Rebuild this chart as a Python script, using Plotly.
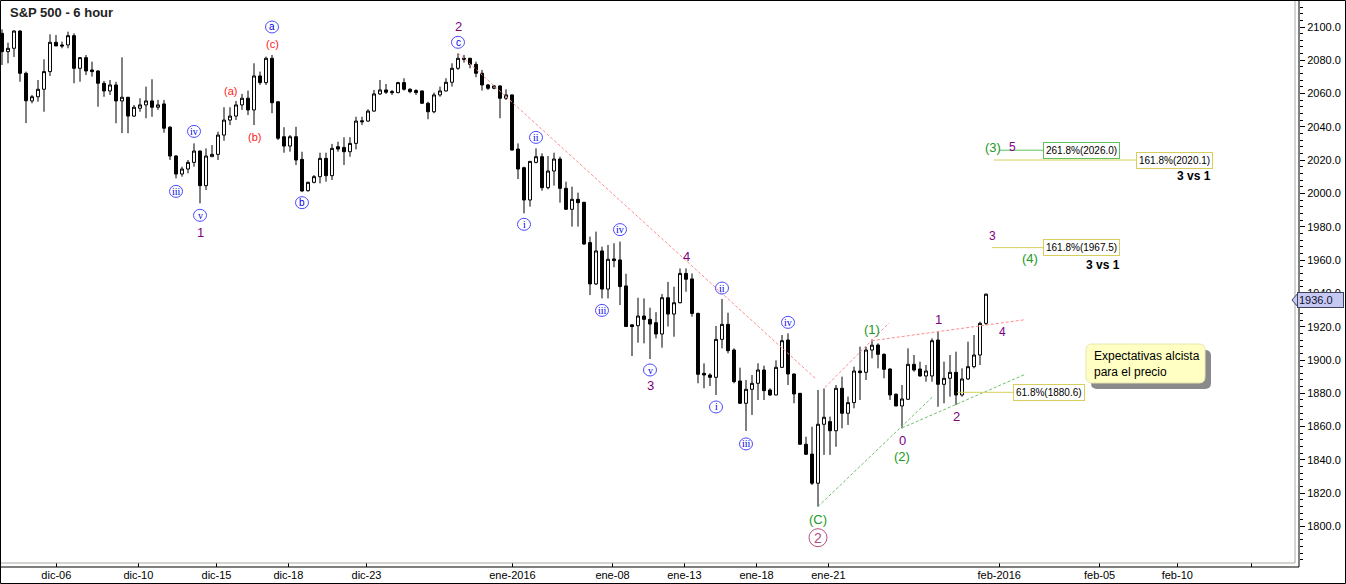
import plotly.graph_objects as go

# ---------------- data (6-hour candles, S&P 500) ----------------
open_ = [2096.2, 2085.2, 2087.2, 2097.6, 2072.2, 2055.6, 2058.1, 2062.6, 2073.2, 2090.8,
         2089.2, 2089.2, 2094.8, 2075.2, 2081.6, 2074.2, 2073.6, 2066.2, 2061.6, 2065.2,
         2055.6, 2057.8, 2046.5, 2051.2, 2053.2, 2055.6, 2051.8, 2053.8, 2039.8, 2022.5,
         2011.7, 2014.7, 2018.7, 2025.5, 2004.7, 2022.1, 2023.5, 2035.1, 2044.1, 2046.5,
         2053.2, 2057.2, 2050.2, 2070.6, 2066.6, 2081.2, 2055.1, 2034.1, 2028.5, 2034.1,
         2020.5, 2001.7, 2006.7, 2010.1, 2021.1, 2010.7, 2028.1, 2027.7, 2025.1, 2030.1,
         2043.7, 2043.5, 2049.5, 2059.8, 2062.2, 2061.2, 2060.6, 2066.6, 2062.6, 2061.8,
         2061.6, 2054.2, 2049.1, 2059.2, 2061.6, 2066.8, 2075.2, 2081.2, 2081.2, 2077.6,
         2072.2, 2065.2, 2063.2, 2064.6, 2057.2, 2059.2, 2026.7, 2015.5, 1996.1, 2018.7,
         2022.1, 2003.5, 2013.5, 2020.7, 2003.1, 1990.5, 1996.5, 1994.7, 1970.5, 1945.7,
         1965.5, 1942.6, 1960.7, 1960.1, 1944.5, 1921.1, 1920.6, 1926.4, 1924.4, 1922.4,
         1915.6, 1937.4, 1927.6, 1934.4, 1952.0, 1948.7, 1928.0, 1892.0, 1891.0, 1889.6,
         1912.4, 1921.4, 1906.0, 1887.4, 1874.0, 1882.4, 1886.0, 1894.0, 1882.0, 1879.0,
         1895.6, 1912.0, 1891.6, 1880.0, 1849.4, 1843.5, 1826.0, 1861.4, 1863.0, 1857.5,
         1883.0, 1868.0, 1874.4, 1893.4, 1892.6, 1906.0, 1909.0, 1903.4, 1894.6, 1879.4,
         1872.4, 1876.4, 1897.4, 1894.6, 1890.4, 1890.4, 1912.0, 1885.4, 1889.0, 1892.6,
         1879.0, 1888.6, 1896.0, 1903.0, 1922.0]

high = [2098.6, 2090.6, 2098.0, 2098.0, 2073.2, 2059.2, 2068.2, 2080.6, 2095.6, 2095.2,
        2091.2, 2097.2, 2096.2, 2082.0, 2083.2, 2079.2, 2074.0, 2067.6, 2068.2, 2067.1,
        2081.8, 2058.0, 2053.2, 2057.2, 2064.2, 2068.6, 2056.2, 2056.2, 2040.5, 2023.1,
        2016.1, 2020.1, 2030.1, 2025.8, 2027.1, 2029.1, 2037.1, 2051.8, 2051.8, 2055.6,
        2059.8, 2061.8, 2078.2, 2073.2, 2082.2, 2083.2, 2055.5, 2039.8, 2035.1, 2040.1,
        2025.1, 2007.1, 2011.1, 2024.5, 2024.5, 2029.8, 2031.1, 2033.8, 2033.8, 2046.1,
        2046.1, 2050.6, 2062.2, 2068.2, 2065.8, 2062.2, 2067.1, 2069.2, 2063.2, 2062.6,
        2061.8, 2055.1, 2060.6, 2064.2, 2069.2, 2078.2, 2084.2, 2083.2, 2081.5, 2079.2,
        2074.2, 2065.8, 2065.2, 2065.0, 2062.6, 2059.5, 2030.1, 2016.1, 2019.5, 2027.1,
        2024.1, 2022.5, 2024.5, 2022.1, 2007.1, 2004.1, 2000.5, 1995.0, 1974.1, 1977.1,
        1968.1, 1969.1, 1970.1, 1971.1, 1951.8, 1921.3, 1937.4, 1937.0, 1931.4, 1928.7,
        1939.6, 1946.9, 1944.0, 1955.0, 1955.0, 1952.0, 1928.4, 1898.0, 1892.0, 1920.4,
        1936.6, 1928.4, 1907.0, 1895.4, 1888.0, 1891.0, 1898.0, 1896.6, 1883.0, 1899.8,
        1915.0, 1916.0, 1891.9, 1880.2, 1853.9, 1859.9, 1882.0, 1882.9, 1866.0, 1885.0,
        1890.0, 1878.0, 1896.0, 1908.0, 1908.0, 1912.4, 1910.0, 1904.0, 1895.0, 1880.0,
        1885.0, 1907.0, 1903.0, 1899.0, 1897.0, 1913.0, 1917.0, 1899.0, 1903.0, 1905.0,
        1895.0, 1911.0, 1915.0, 1923.0, 1940.0]

low = [2077.2, 2078.2, 2082.0, 2067.1, 2042.3, 2054.2, 2055.1, 2049.1, 2070.6, 2088.6,
       2087.2, 2087.2, 2066.2, 2067.1, 2071.2, 2070.2, 2052.1, 2058.1, 2059.2, 2042.2,
       2036.3, 2036.2, 2046.1, 2049.1, 2045.2, 2046.1, 2050.2, 2036.5, 2020.1, 2009.1,
       2010.1, 2012.1, 2016.1, 1994.1, 2002.1, 2022.1, 2020.1, 2031.7, 2041.1, 2044.1,
       2050.2, 2047.1, 2041.1, 2065.2, 2065.2, 2048.2, 2032.1, 2024.5, 2025.1, 2017.1,
       2001.1, 2001.1, 2006.1, 2006.1, 2007.1, 2008.1, 2025.1, 2017.1, 2022.1, 2026.5,
       2041.1, 2043.1, 2049.1, 2059.2, 2059.8, 2059.2, 2060.2, 2061.8, 2060.2, 2059.2,
       2053.8, 2044.6, 2048.2, 2058.1, 2061.2, 2064.2, 2074.2, 2078.6, 2075.2, 2069.8,
       2061.8, 2062.2, 2062.6, 2045.2, 2056.2, 2025.7, 2008.7, 1988.1, 1992.1, 2018.1,
       2001.7, 2002.5, 2004.7, 1994.5, 1990.1, 1980.1, 1980.1, 1969.1, 1939.0, 1945.0,
       1937.0, 1937.0, 1955.7, 1933.0, 1919.8, 1902.4, 1910.4, 1910.0, 1900.6, 1913.0,
       1907.4, 1920.1, 1914.0, 1934.0, 1941.0, 1926.0, 1886.0, 1883.0, 1884.4, 1879.0,
       1907.0, 1904.0, 1886.0, 1873.6, 1857.4, 1867.0, 1876.0, 1876.0, 1878.4, 1878.8,
       1895.2, 1885.0, 1874.0, 1849.2, 1843.0, 1824.9, 1811.9, 1843.0, 1843.0, 1847.9,
       1859.0, 1861.0, 1871.0, 1876.0, 1888.0, 1901.0, 1895.0, 1889.0, 1876.0, 1872.2,
       1859.0, 1876.0, 1893.0, 1890.0, 1887.0, 1887.0, 1871.9, 1874.0, 1878.0, 1873.0,
       1878.0, 1888.0, 1895.0, 1897.0, 1921.0]

close = [2085.2, 2087.2, 2097.6, 2072.2, 2055.7, 2058.1, 2062.6, 2073.2, 2090.8, 2088.6,
         2088.6, 2094.8, 2075.2, 2081.6, 2073.6, 2073.2, 2066.2, 2061.6, 2065.2, 2055.6,
         2057.8, 2046.5, 2051.8, 2053.2, 2055.6, 2051.8, 2053.2, 2039.2, 2022.5, 2011.7,
         2014.7, 2018.7, 2025.5, 2004.7, 2022.5, 2023.5, 2035.1, 2044.1, 2046.5, 2053.2,
         2057.2, 2050.2, 2070.6, 2066.6, 2081.2, 2054.5, 2033.2, 2028.5, 2034.1, 2020.1,
         2001.5, 2006.7, 2010.1, 2021.1, 2010.7, 2027.1, 2026.7, 2025.1, 2030.1, 2043.5,
         2043.1, 2049.5, 2059.8, 2062.2, 2060.8, 2060.6, 2066.6, 2062.6, 2061.2, 2060.6,
         2054.2, 2049.1, 2059.2, 2061.6, 2066.8, 2075.2, 2081.2, 2080.6, 2077.6, 2072.2,
         2065.2, 2063.2, 2064.6, 2057.2, 2059.2, 2026.1, 2014.7, 1996.1, 2019.3, 2022.1,
         2003.5, 2013.5, 2020.7, 2003.1, 1990.5, 1996.5, 1994.5, 1969.7, 1945.7, 1965.5,
         1942.6, 1960.5, 1959.7, 1944.1, 1920.1, 1920.1, 1926.4, 1924.4, 1921.6, 1915.6,
         1937.4, 1927.6, 1934.4, 1952.0, 1948.5, 1928.0, 1891.4, 1891.0, 1889.6, 1912.4,
         1921.4, 1905.6, 1887.0, 1874.0, 1882.4, 1886.0, 1894.0, 1881.6, 1879.0, 1895.6,
         1911.6, 1891.6, 1879.6, 1849.4, 1843.4, 1826.0, 1861.4, 1865.6, 1857.5, 1883.0,
         1868.0, 1874.4, 1893.4, 1892.4, 1906.0, 1908.9, 1903.4, 1894.4, 1879.0, 1872.4,
         1876.6, 1897.4, 1894.0, 1890.4, 1893.4, 1911.6, 1885.4, 1889.0, 1892.6, 1879.0,
         1888.6, 1896.0, 1903.0, 1922.0, 1939.5]

bar_index = list(range(len(open_)))

# date ticks (positions in bar units)
tick_pos = [9.05, 22.73, 35.75, 47.73, 60.75, 85.08, 101.75, 113.73, 125.75, 137.73,
            166.2, 182.93, 195.88, 208.23]
tick_text = ["dic-06", "dic-10", "dic-15", "dic-18", "dic-23", "ene-2016", "ene-08",
             "ene-13", "ene-18", "ene-21", "feb-2016", "feb-05", "feb-10", ""]

# price axis labels
price_ticks = [1800, 1820, 1840, 1860, 1880, 1900, 1920, 1940, 1960, 1980, 2000, 2020,
               2040, 2060, 2080, 2100]

last_price = 1936.0

# Elliott wave labels attached to bars: (bar number, H/L, text, style, shift px)
wave_bar = [46, 46, 33, 30, 34, 34, 39, 43, 51, 77, 77, 90, 88, 104, 101, 109, 109,
            115, 121, 120, 132, 125, 137, 137, 146, 157, 151, 151, 160]
wave_side = ["H", "H", "H", "L", "L", "L", "H", "L", "L", "H", "H", "H", "L", "H", "L",
             "L", "L", "H", "H", "L", "H", "L", "L", "L", "H", "H", "L", "L", "L"]
wave_text = ["a", "(c)", "iv", "iii", "v", "1", "(a)", "(b)", "b", "c", "2", "ii", "i",
             "iv", "iii", "v", "3", "4", "ii", "i", "iv", "iii", "(C)", "2", "(1)", "1",
             "0", "(2)", "2"]
wave_style = ["circ", "red", "circ", "circ", "circ", "purple", "red", "red", "circ",
              "circ", "purple", "circ", "circ", "circ", "circ", "circ", "purple",
              "purple", "circ", "circ", "circ", "circ", "green", "big", "green",
              "purple", "purple", "green", "purple"]
wave_shift = [28, 11, 12, -13, -12, -29, 16, -12, -11, 11, 27, 11, -11, 12, -12, -11,
              -26, 12, 11, -12, 11, -13, -13, -31, 10, 12, -12, -28, -12]

# projected wave labels (bar position, price)
proj_text = ["3", "(4)", "(3)", "5", "4"]
proj_style = ["purple", "green", "green", "purple", "purple"]
proj_x = [165.05, 171.33, 165.2, 168.4, 166.67]
proj_y = [1974.5, 1961.1, 2027.7, 2027.7, 1917.0]

# Fibonacci targets
fib_pct = ["261.8%", "161.8%", "161.8%", "61.8%"]
fib_level = [2026.0, 2020.1, 1967.5, 1880.6]
fib_x0 = [166.3, 165.3, 165.0, 159.2]
fib_x1 = [173.5, 189.0, 173.5, 168.5]
fib_color = ["#5cc25c", "#d6cf5c", "#d6cf5c", "#d6cf5c"]

# dashed trend lines
trend_x0 = [76.0, 137.17, 145.0, 136.0, 150.0]
trend_y0 = [2084.4, 1883.6, 1911.6, 1812.0, 1859.2]
trend_x1 = [135.67, 147.83, 170.5, 155.17, 170.67]
trend_y1 = [1888.6, 1922.2, 1924.2, 1878.1, 1891.6]
trend_color = ["#ff8c8c", "#ff8c8c", "#ff8c8c", "#6fbf6f", "#6fbf6f"]

# ---------------- figure ----------------
FONT = "Liberation Sans, Arial, sans-serif"
SERIF = "Liberation Serif, Times New Roman, serif"

fig = go.Figure()
fig.add_trace(go.Candlestick(
    x=bar_index, open=open_, high=high, low=low, close=close,
    increasing=dict(line=dict(color="black", width=1), fillcolor="white"),
    decreasing=dict(line=dict(color="black", width=1), fillcolor="black"),
    whiskerwidth=0, showlegend=False, hoverinfo="skip"))

W, H = 1346, 584
ML, MR, MT, MB = 1, 47, 1, 17
PW = W - ML - MR   # 1298
PH = H - MT - MB   # 566
xdom_end = 1294 / PW
ydom_start = 4 / PH

X_RANGE = [-1 / 6, 215.5]
Y_RANGE = [2100 - (563 - 27) / 1.665, 2100 - (1 - 27) / 1.665]

shapes = []
annotations = []

# plot frame (gray) and axis lines (black)
shapes.append(dict(type="line", xref="x domain", yref="y domain", x0=1, x1=1, y0=0, y1=1,
                   line=dict(color="#a9a9a1", width=1)))
shapes.append(dict(type="line", xref="x domain", yref="y domain", x0=0, x1=1, y0=0, y1=0,
                   line=dict(color="#a9a9a1", width=1)))
shapes.append(dict(type="line", xref="paper", yref="paper", x0=0, x1=1, y0=0, y1=0,
                   line=dict(color="black", width=1)))
shapes.append(dict(type="line", xref="paper", yref="paper", x0=1, x1=1, y0=0, y1=1,
                   line=dict(color="black", width=1)))
# outer image frame
shapes.append(dict(type="rect", xref="paper", yref="paper",
                   x0=(0.5 - ML) / PW, x1=(W - 0.5 - ML) / PW,
                   y0=(H - MB - (H - 0.5)) / PH, y1=(H - MB - 0.5) / PH,
                   line=dict(color="black", width=1), fillcolor="rgba(0,0,0,0)"))

# trend lines
for x0, y0, x1, y1, c in zip(trend_x0, trend_y0, trend_x1, trend_y1, trend_color):
    shapes.append(dict(type="line", xref="x", yref="y", x0=x0, y0=y0, x1=x1, y1=y1,
                       line=dict(color=c, width=1, dash="3px,2px")))

# fib lines + boxes
for pct, lvl, x0, x1, c in zip(fib_pct, fib_level, fib_x0, fib_x1, fib_color):
    shapes.append(dict(type="line", xref="x", yref="y", x0=x0, x1=x1, y0=lvl, y1=lvl,
                       line=dict(color=c, width=1)))
    annotations.append(dict(x=x1, y=lvl, xref="x", yref="y", xanchor="left", yanchor="middle",
                            text=f"{pct}({lvl:.1f})", showarrow=False,
                            font=dict(family=FONT, size=10, color="black"),
                            bgcolor="white", bordercolor=c, borderwidth=1, borderpad=2))

annotations.append(dict(x=201.8, y=2010.5, xref="x", yref="y", xanchor="right",
                        text="<b>3 vs 1</b>", showarrow=False,
                        font=dict(family=FONT, size=12, color="black")))
annotations.append(dict(x=186.7, y=1957.0, xref="x", yref="y", xanchor="right",
                        text="<b>3 vs 1</b>", showarrow=False,
                        font=dict(family=FONT, size=12, color="black")))

# callout with shadow (rounded corners)
def rounded_path(x0, x1, y0, y1, rx, ry):
    return (f"M {x0 + rx},{y0} L {x1 - rx},{y0} Q {x1},{y0} {x1},{y0 + ry} "
            f"L {x1},{y1 - ry} Q {x1},{y1} {x1 - rx},{y1} L {x0 + rx},{y1} "
            f"Q {x0},{y1} {x0},{y1 - ry} L {x0},{y0 + ry} Q {x0},{y0} {x0 + rx},{y0} Z")

shapes.append(dict(type="path", xref="x", yref="y",
                   path=rounded_path(181.5, 201.5, 1882.6, 1906.0, 1.0, 3.6),
                   line=dict(width=0), fillcolor="#8a8a8a"))
shapes.append(dict(type="path", xref="x", yref="y",
                   path=rounded_path(180.67, 200.5, 1886.2, 1909.6, 1.0, 3.6),
                   line=dict(color="#e6e6b0", width=1), fillcolor="#ffffc4"))
annotations.append(dict(x=181.67, y=1897.9, xref="x", yref="y", xanchor="left", yanchor="middle",
                        text="Expectativas alcista<br>para el precio", align="left",
                        showarrow=False, font=dict(family=FONT, size=12, color="black")))

# wave labels on bars
colors = {"red": "#ff2020", "purple": "#800080", "green": "#229922", "circ": "#0000e6",
          "big": "#b0507f"}
for b, side, t, st, s in zip(wave_bar, wave_side, wave_text, wave_style, wave_shift):
    xi = b - 1
    yi = high[xi] if side == "H" else low[xi]
    if st == "circ":
        fnt = dict(family=SERIF if t not in ("a", "b", "c") else FONT, size=10,
                   color=colors[st])
        r = 6.5
        shapes.append(dict(type="circle", xref="x", yref="y", xsizemode="pixel",
                           ysizemode="pixel", xanchor=xi, yanchor=yi, x0=-r, x1=r,
                           y0=s - r + 0.5, y1=s + r - 0.5,
                           line=dict(color="#4a4aff", width=1)))
    elif st == "big":
        fnt = dict(family=FONT, size=14, color=colors[st])
        r = 9
        shapes.append(dict(type="circle", xref="x", yref="y", xsizemode="pixel",
                           ysizemode="pixel", xanchor=xi, yanchor=yi, x0=-r, x1=r,
                           y0=s - r, y1=s + r, line=dict(color=colors[st], width=1)))
    else:
        fnt = dict(family=FONT, size=13 if st in ("green", "purple") else 11,
                   color=colors[st])
    annotations.append(dict(x=xi, y=yi, xref="x", yref="y", yshift=s, text=t,
                            showarrow=False, xanchor="center", yanchor="middle", font=fnt))

for t, st, x, y in zip(proj_text, proj_style, proj_x, proj_y):
    annotations.append(dict(x=x, y=y, xref="x", yref="y", text=t, showarrow=False,
                            xanchor="center", yanchor="middle",
                            font=dict(family=FONT, size=13 if st == "green" else 12,
                                      color=colors[st])))

# title
annotations.append(dict(x=(8 - ML) / PW, y=(H - MB - 12) / PH, xref="paper", yref="paper",
                        xanchor="left", yanchor="middle", text="<b>S&P 500 - 6 hour</b>",
                        showarrow=False, font=dict(family=FONT, size=13, color="#222222")))

# last price tag
tag_x = (1297 - ML) / PW
shapes.append(dict(type="path", xref="paper", yref="y", xsizemode="pixel", ysizemode="pixel",
                   xanchor=tag_x, yanchor=last_price, path="M -5,0 L 1,7 L 1,-7 Z",
                   fillcolor="#c6caf2", line=dict(color="#404060", width=1)))
annotations.append(dict(x=tag_x, y=last_price, xref="paper", yref="y", xanchor="left",
                        yanchor="middle", text=f"{last_price:.1f}&nbsp;&nbsp;&nbsp;",
                        showarrow=False,
                        font=dict(family=FONT, size=11, color="#101030"),
                        bgcolor="#c6caf2", bordercolor="#404060", borderwidth=1, borderpad=1))

fig.update_layout(
    width=W, height=H,
    margin=dict(l=ML, r=MR, t=MT, b=MB, pad=0, autoexpand=False),
    paper_bgcolor="white", plot_bgcolor="white",
    showlegend=False,
    xaxis=dict(domain=[0, xdom_end], range=X_RANGE, anchor="free", position=0,
               automargin=False,
               rangeslider=dict(visible=False), showgrid=False, zeroline=False,
               showline=False, tickmode="array", tickvals=tick_pos, ticktext=tick_text,
               ticks="inside", ticklen=4, tickcolor="black",
               tickfont=dict(family=FONT, size=11, color="black")),
    yaxis=dict(domain=[ydom_start, 1], range=Y_RANGE, side="right", anchor="free",
               position=1, automargin=False, showgrid=False, zeroline=False, showline=False,
               tickmode="array", tickvals=price_ticks, tickformat=".1f",
               ticks="outside", ticklen=5, tickcolor="black",
               minor=dict(tickmode="linear", dtick=4, tick0=0, ticks="outside", ticklen=3,
                          tickcolor="black"),
               tickfont=dict(family=FONT, size=11, color="black")),
    shapes=shapes, annotations=annotations,
)

fig.write_html("out.html", config={"displayModeBar": False, "staticPlot": True},
               post_script="document.body.style.margin='0';document.body.style.overflow='hidden';")
